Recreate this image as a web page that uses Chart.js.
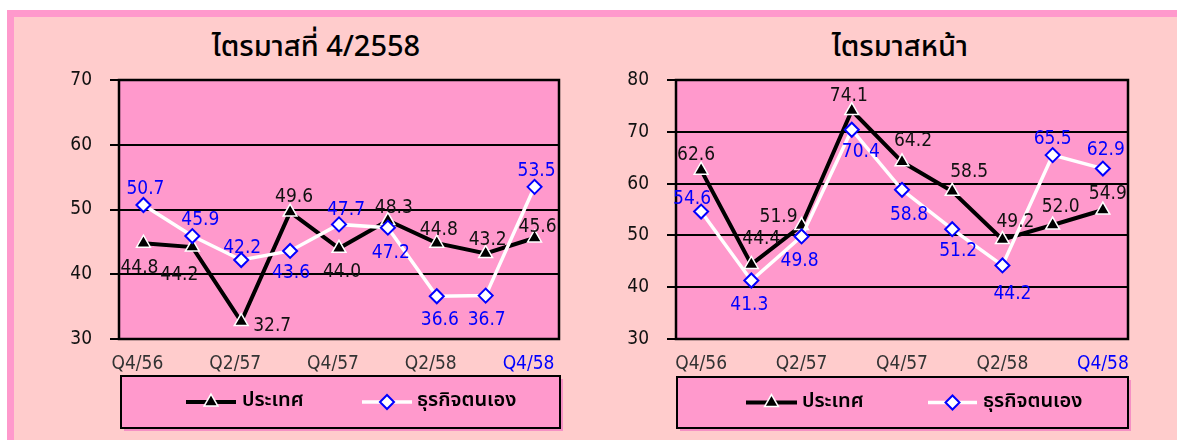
<!DOCTYPE html>
<html lang="th">
<head>
<meta charset="utf-8">
<title>ไตรมาสที่ 4/2558 และ ไตรมาสหน้า</title>
<script src="https://cdn.jsdelivr.net/npm/chart.js@4.4.1/dist/chart.umd.min.js"></script>
<style>
  html, body { margin: 0; padding: 0; background: #fff; }
  body { width: 1177px; height: 440px; position: relative; overflow: hidden; }
  .frame {
    position: absolute; left: 7px; top: 10px; right: 0; bottom: 0;
    background: #ffcccc;
    border-top: 7px solid #ff99cc; border-left: 7px solid #ff99cc;
  }
  .title {
    position: absolute; top: 25px; transform: translateX(-50%);
    font: 500 29px Tahoma, "Noto Sans Thai", "Noto Sans Thai UI", Loma, Garuda, Waree, sans-serif;
    color: #000; white-space: nowrap;
  }
  canvas { position: absolute; top: 0; }
</style>
</head>
<body>
<div class="frame"></div>
<div class="title" style="left:316px">ไตรมาสที่ 4/2558</div>
<div class="title" style="left:900px">ไตรมาสหน้า</div>
<canvas id="nowChart" width="590" height="440" style="left:0"></canvas>
<canvas id="nextChart" width="587" height="440" style="left:590px"></canvas>

<script>
// ── Data ───────────────────────────────────────────────────────────────
const quarters    = ['Q4/56', 'Q1/57', 'Q2/57', 'Q3/57', 'Q4/57', 'Q1/58', 'Q2/58', 'Q3/58', 'Q4/58'];
const seriesNames = ['ประเทศ', 'ธุรกิจตนเอง'];

// ไตรมาสที่ 4/2558
const nowCountry   = [44.8, 44.2, 32.7, 49.6, 44.0, 48.3, 44.8, 43.2, 45.6];
const nowBusiness  = [50.7, 45.9, 42.2, 43.6, 47.7, 47.2, 36.6, 36.7, 53.5];
// ไตรมาสหน้า
const nextCountry  = [62.6, 44.4, 51.9, 74.1, 64.2, 58.5, 49.2, 52.0, 54.9];
const nextBusiness = [54.6, 41.3, 49.8, 70.4, 58.8, 51.2, 44.2, 65.5, 62.9];

// ── Label placement (dx, dy from the point) ────────────────────────────
const nowCountryOff   = [[-4,25],[-13,28],[31,5],[4,-15],[3,24],[6,-12],[2,-13],[2,-13],[3,-11]];
const nowBusinessOff  = [[2,-16],[8,-16],[1,-12],[1,22],[7,-14],[3,25],[3,24],[1,24],[2,-16]];
const nextCountryOff  = [[-5,-15],[10,-25],[-23,-8],[-3,-14],[11,-21],[17,-19],[13,-17],[8,-18],[5,-16]];
const nextBusinessOff = [[-9,-13],[-2,25],[-2,25],[9,22],[7,25],[6,22],[10,29],[0,-16],[3,-19]];

// ── Style ──────────────────────────────────────────────────────────────
const PLOT_BG   = '#ff99cc';
const BLUE      = '#0000ff';
const NUM_FONT  = '"DejaVu Sans Condensed", "DejaVu Sans", sans-serif';
const THAI_FONT = 'Tahoma, "Noto Sans Thai", "Noto Sans Thai UI", Loma, Garuda, Waree, sans-serif';

Chart.defaults.font.family = NUM_FONT;
Chart.defaults.font.size = 19;

// ── Plugins ────────────────────────────────────────────────────────────
const plotFrame = {
  id: 'plotFrame',
  beforeDraw(chart) {
    const { ctx, chartArea: a } = chart;
    ctx.save();
    ctx.fillStyle = PLOT_BG;
    ctx.fillRect(a.left, a.top, a.width, a.height);
    ctx.restore();
  },
  beforeDatasetsDraw(chart) {
    const { ctx, chartArea: a } = chart;
    ctx.save();
    ctx.strokeStyle = '#000';
    ctx.lineWidth = 2.5;
    ctx.strokeRect(a.left, a.top, a.width, a.height);
    ctx.restore();
  }
};

const pointLabels = {
  id: 'pointLabels',
  afterDatasetsDraw(chart, args, opts) {
    const ctx = chart.ctx;
    ctx.save();
    ctx.font = '19px ' + NUM_FONT;
    ctx.textAlign = 'center';
    ctx.textBaseline = 'middle';
    chart.data.datasets.forEach((ds, di) => {
      const meta = chart.getDatasetMeta(di);
      ctx.fillStyle = opts.colors[di];
      meta.data.forEach((pt, i) => {
        const [dx, dy] = opts.offsets[di][i];
        ctx.fillText(ds.data[i].toFixed(1), pt.x + dx, pt.y + dy);
      });
    });
    ctx.restore();
  }
};

const legendBox = {
  id: 'legendBox',
  afterDraw(chart, args, opts) {
    const ctx = chart.ctx;
    const b = opts.box;
    ctx.save();
    ctx.fillStyle = '#f590c4';
    ctx.fillRect(b.x + 3, b.y + 3, b.w, b.h);
    ctx.fillStyle = PLOT_BG;
    ctx.fillRect(b.x, b.y, b.w, b.h);
    ctx.strokeStyle = '#000';
    ctx.lineWidth = 2;
    ctx.strokeRect(b.x, b.y, b.w, b.h);

    const y = b.y + b.h / 2;
    chart.data.datasets.forEach((ds, di) => {
      const it = opts.items[di];
      ctx.strokeStyle = ds.borderColor;
      ctx.lineWidth = ds.borderWidth;
      ctx.beginPath();
      ctx.moveTo(it.x1, y);
      ctx.lineTo(it.x2, y);
      ctx.stroke();
      ctx.fillStyle = ds.pointBackgroundColor;
      ctx.strokeStyle = ds.pointBorderColor;
      ctx.lineWidth = ds.pointBorderWidth;
      Chart.helpers.drawPoint(ctx, {
        pointStyle: ds.pointStyle, radius: ds.pointRadius,
        borderWidth: ds.pointBorderWidth, rotation: 0
      }, (it.x1 + it.x2) / 2, y);
      ctx.fillStyle = '#000';
      ctx.font = '600 20px ' + THAI_FONT;
      ctx.textAlign = 'left';
      ctx.textBaseline = 'middle';
      ctx.fillText(ds.label, it.tx, y);
    });
    ctx.restore();
  }
};

// ── Chart builder ──────────────────────────────────────────────────────
function makeChart(id, country, business, yMax, offsets, layout, legend) {
  return new Chart(document.getElementById(id), {
    type: 'line',
    data: {
      labels: quarters,
      datasets: [
        {
          label: seriesNames[0], data: country, order: 1,
          borderColor: '#000', borderWidth: 4, tension: 0,
          pointStyle: 'triangle', pointRadius: 8, pointHoverRadius: 8,
          pointBackgroundColor: '#000', pointBorderColor: '#fff', pointBorderWidth: 1.5
        },
        {
          label: seriesNames[1], data: business, order: 0,
          borderColor: '#fff', borderWidth: 3.5, tension: 0,
          pointStyle: 'rectRot', pointRadius: 7, pointHoverRadius: 7,
          pointBackgroundColor: '#fff', pointBorderColor: BLUE, pointBorderWidth: 2
        }
      ]
    },
    options: {
      responsive: false,
      animation: false,
      devicePixelRatio: 1,
      layout: { padding: layout },
      plugins: {
        legend: { display: false },
        tooltip: { enabled: false },
        pointLabels: { offsets: offsets, colors: ['#111', BLUE] },
        legendBox: legend
      },
      scales: {
        x: {
          offset: true,
          grid: { display: false },
          border: { display: false },
          afterFit: s => { s.height = 101; },
          ticks: {
            autoSkip: false, maxRotation: 0, padding: 6, labelOffset: layout.labelShift,
            color: c => (c.index === quarters.length - 1 ? BLUE : '#333'),
            callback: function (v, i) { return i % 2 === 0 ? this.getLabelForValue(v) : ''; }
          }
        },
        y: {
          min: 30, max: yMax,
          afterFit: s => { s.width = 50; },
          grid: { color: '#000', lineWidth: 2, tickLength: 9, tickColor: '#000', tickWidth: 2 },
          border: { display: false },
          ticks: { stepSize: 10, padding: 18, color: '#111' }
        }
      }
    },
    plugins: [plotFrame, pointLabels, legendBox]
  });
}

makeChart('nowChart', nowCountry, nowBusiness, 70,
  [nowCountryOff, nowBusinessOff],
  { left: 69, right: 31, top: 80, bottom: 0, labelShift: -6 },
  { box: { x: 121, y: 376, w: 439, h: 52 },
    items: [{ x1: 186, x2: 236, tx: 242 }, { x1: 362, x2: 412, tx: 417 }] });

makeChart('nextChart', nextCountry, nextBusiness, 80,
  [nextCountryOff, nextBusinessOff],
  { left: 36, right: 49, top: 80, bottom: 0, labelShift: 0 },
  { box: { x: 87, y: 377, w: 451, h: 51 },
    items: [{ x1: 156, x2: 207, tx: 212 }, { x1: 338, x2: 387, tx: 393 }] });
</script>
</body>
</html>
